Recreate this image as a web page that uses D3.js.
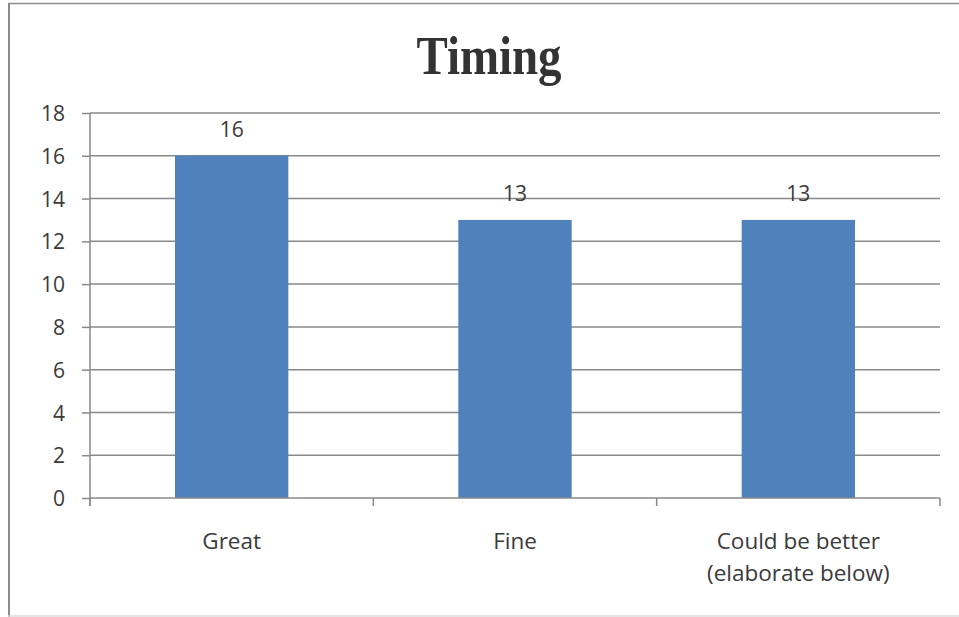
<!DOCTYPE html>
<html>
<head>
<meta charset="utf-8">
<script src="https://cdn.jsdelivr.net/npm/d3@7/dist/d3.min.js"></script>
<style>
  html, body { margin: 0; padding: 0; background: #fff; }
  svg { display: block; }
</style>
</head>
<body>
<svg id="chart" width="959" height="617"></svg>
<script>
// Survey responses for "Timing"
const categories = ["Great", "Fine", "Could be better\n(elaborate below)"];
const counts = [16, 13, 13];
const yTicks = [0, 2, 4, 6, 8, 10, 12, 14, 16, 18];
const chartTitle = "Timing";

const svg = d3.select("#chart");
const W = 959, H = 617;
const plot = { left: 90, right: 940, top: 113, bottom: 498 };

const barColor = "#4F81BD";
const gridColor = "#898989";
const textColor = "#3a3a3a";
const labelFont = "'Open Sans', 'Noto Sans', sans-serif";

// Frame around the chart area
svg.append("line").attr("x1", 9).attr("x2", 9).attr("y1", 3).attr("y2", H)
  .attr("stroke", "#8c8c8c").attr("stroke-width", 2);
svg.append("line").attr("x1", 8).attr("x2", W).attr("y1", 3.5).attr("y2", 3.5)
  .attr("stroke", "#8c8c8c").attr("stroke-width", 1.5);
svg.append("line").attr("x1", 8).attr("x2", W).attr("y1", 616).attr("y2", 616)
  .attr("stroke", "#dcdcdc").attr("stroke-width", 1.5);

// Title
svg.append("text")
  .attr("x", 489).attr("y", 74)
  .attr("text-anchor", "middle")
  .attr("font-family", "'Liberation Serif', 'Times New Roman', serif")
  .attr("font-weight", "bold")
  .attr("font-size", 55)
  .attr("textLength", 145)
  .attr("lengthAdjust", "spacingAndGlyphs")
  .attr("fill", "#333333")
  .text(chartTitle);

// Scales
const y = d3.scaleLinear().domain([0, 18]).range([plot.bottom, plot.top]);
const x = d3.scaleBand().domain(categories).range([plot.left, plot.right]).padding(0);
const barW = x.bandwidth() * 0.4;

// Horizontal gridlines
svg.append("g").selectAll("line").data(yTicks.filter(t => t > 0)).join("line")
  .attr("x1", plot.left).attr("x2", plot.right)
  .attr("y1", d => y(d)).attr("y2", d => y(d))
  .attr("stroke", gridColor).attr("stroke-width", 1.5);

// Y axis
const yAxis = svg.append("g")
  .attr("transform", `translate(${plot.left},0)`)
  .call(d3.axisLeft(y).tickValues(yTicks).tickSize(8).tickPadding(17).tickSizeOuter(0));
yAxis.select(".domain").remove();
yAxis.append("line").attr("x1", 0).attr("x2", 0).attr("y1", plot.top).attr("y2", plot.bottom + 8)
  .attr("stroke", gridColor).attr("stroke-width", 1.5);
yAxis.selectAll(".tick line").attr("stroke", gridColor).attr("stroke-width", 1.5);
yAxis.selectAll(".tick text")
  .attr("font-family", labelFont).attr("font-size", 21).attr("fill", textColor)
  .attr("dy", "0.36em");

// Bars
svg.append("g").selectAll("rect").data(categories).join("rect")
  .attr("x", (d) => x(d) + (x.bandwidth() - barW) / 2)
  .attr("width", barW)
  .attr("y", (d, i) => y(counts[i]))
  .attr("height", (d, i) => y(0) - y(counts[i]))
  .attr("fill", barColor);

// X axis line and category boundary ticks
const xg = svg.append("g");
xg.append("line").attr("x1", plot.left).attr("x2", plot.right)
  .attr("y1", plot.bottom).attr("y2", plot.bottom)
  .attr("stroke", gridColor).attr("stroke-width", 1.5);
const bounds = categories.map(c => x(c)).concat([plot.right]);
xg.selectAll("line.tick").data(bounds).join("line").attr("class", "tick")
  .attr("x1", d => d).attr("x2", d => d)
  .attr("y1", plot.bottom).attr("y2", plot.bottom + 8)
  .attr("stroke", gridColor).attr("stroke-width", 1.5);

// Category labels (multi-line where needed)
const catText = svg.append("g").selectAll("text").data(categories).join("text")
  .attr("x", d => x(d) + x.bandwidth() / 2)
  .attr("y", 549)
  .attr("text-anchor", "middle")
  .attr("font-family", labelFont).attr("font-size", 22.5).attr("fill", textColor);
catText.each(function(d) {
  const t = d3.select(this);
  d.split("\n").forEach((line, i) => {
    t.append("tspan").attr("x", x(d) + x.bandwidth() / 2).attr("dy", i === 0 ? 0 : 32).text(line);
  });
});

// Value labels above bars
svg.append("g").selectAll("text").data(categories).join("text")
  .attr("x", d => x(d) + x.bandwidth() / 2)
  .attr("y", (d, i) => y(counts[i]) - 19)
  .attr("text-anchor", "middle")
  .attr("font-family", labelFont).attr("font-size", 21).attr("fill", textColor)
  .text((d, i) => counts[i]);
</script>
</body>
</html>
